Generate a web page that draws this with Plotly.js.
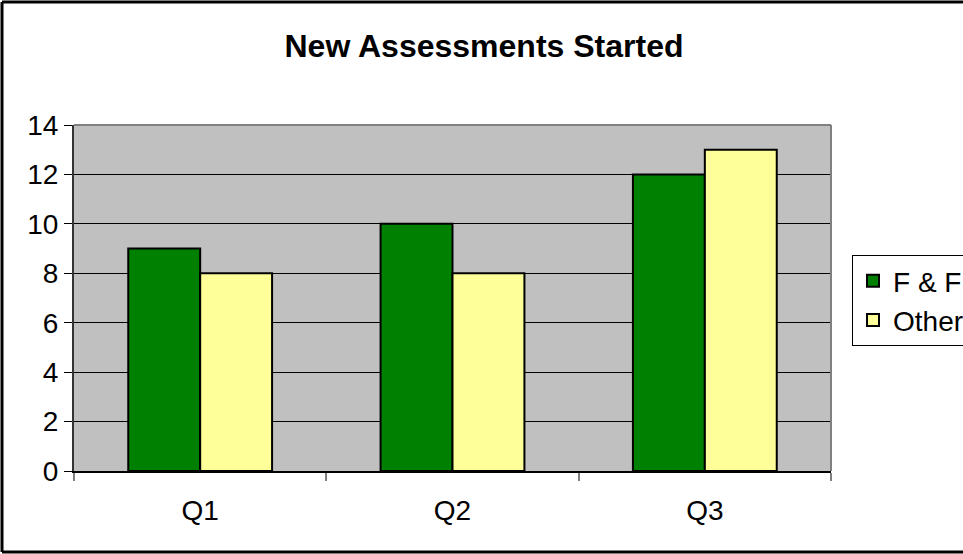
<!DOCTYPE html>
<html>
<head>
<meta charset="utf-8">
<script src="https://cdn.plot.ly/plotly-3.0.1.min.js"></script>
<style>
html,body{margin:0;padding:0;background:#fff;}
#chart{width:963px;height:554px;}
</style>
</head>
<body>
<div id="chart"></div>
<script>
const categories = ["Q1", "Q2", "Q3"];
const seriesNames = ["F & F", "Other"];
const ffValues = [9, 10, 12];
const otherValues = [8, 8, 13];
const yTickVals = [0, 2, 4, 6, 8, 10, 12, 14];

const font = "Liberation Sans, Arial, sans-serif";

const traces = [
  {type: "bar", name: seriesNames[0], x: categories, y: ffValues,
   marker: {color: "#008000", line: {color: "#000000", width: 2}}},
  {type: "bar", name: seriesNames[1], x: categories, y: otherValues,
   marker: {color: "#FFFF99", line: {color: "#000000", width: 2}}}
];

const layout = {
  width: 963, height: 554,
  margin: {l: 74, r: 132, t: 125, b: 83},
  paper_bgcolor: "#ffffff",
  plot_bgcolor: "#C0C0C0",
  font: {family: font, color: "#000000", size: 28},
  title: {text: "<b>New Assessments Started</b>", font: {family: font, size: 32, color: "#000"},
          x: 484/963, xanchor: "center", xref: "container", y: 1 - 46/554, yanchor: "middle", yref: "container"},
  barmode: "group",
  bargap: 0.43,
  bargroupgap: 0,
  showlegend: true,
  legend: {x: 852/963, xref: "container", xanchor: "left", y: 1 - 255/554, yref: "container", yanchor: "top",
           bgcolor: "#ffffff", bordercolor: "#000000", borderwidth: 1,
           font: {family: font, size: 28, color: "#000"}, itemwidth: 30, tracegroupgap: 0},
  xaxis: {type: "category", showgrid: false, zeroline: false,
          showline: true, linecolor: "#000000", linewidth: 2,
          ticks: "outside", tickson: "boundaries", ticklen: 8, tickcolor: "#808080", tickwidth: 2,
          ticklabelstandoff: 13,
          tickfont: {family: font, size: 28, color: "#000"}},
  yaxis: {range: [0, 14], tickvals: yTickVals, ticktext: yTickVals.map(String),
          showgrid: true, gridcolor: "#000000", gridwidth: 1, zeroline: false,
          showline: true, linecolor: "#333333", linewidth: 2,
          ticks: "outside", ticklen: 8, tickcolor: "#000000", tickwidth: 1,
          tickfont: {family: font, size: 28, color: "#000"}},
  shapes: [
    {type: "line", xref: "paper", yref: "paper", x0: 0, x1: 1, y0: 1, y1: 1, line: {color: "#808080", width: 2}},
    {type: "line", xref: "paper", yref: "paper", x0: 1, x1: 1, y0: 0, y1: 1, line: {color: "#808080", width: 2}},
    {type: "line", xref: "paper", yref: "paper", x0: -72/757, x1: 900/757, y0: 1 + 123/346, y1: 1 + 123/346, line: {color: "#000", width: 3}},
    {type: "line", xref: "paper", yref: "paper", x0: -72/757, x1: -72/757, y0: 1 + 123/346, y1: -81/346, line: {color: "#000", width: 3}},
    {type: "line", xref: "paper", yref: "paper", x0: -72/757, x1: 900/757, y0: -81/346, y1: -81/346, line: {color: "#000", width: 3}}
  ]
};

Plotly.newPlot("chart", traces, layout, {displayModeBar: false, staticPlot: true});
</script>
</body>
</html>
